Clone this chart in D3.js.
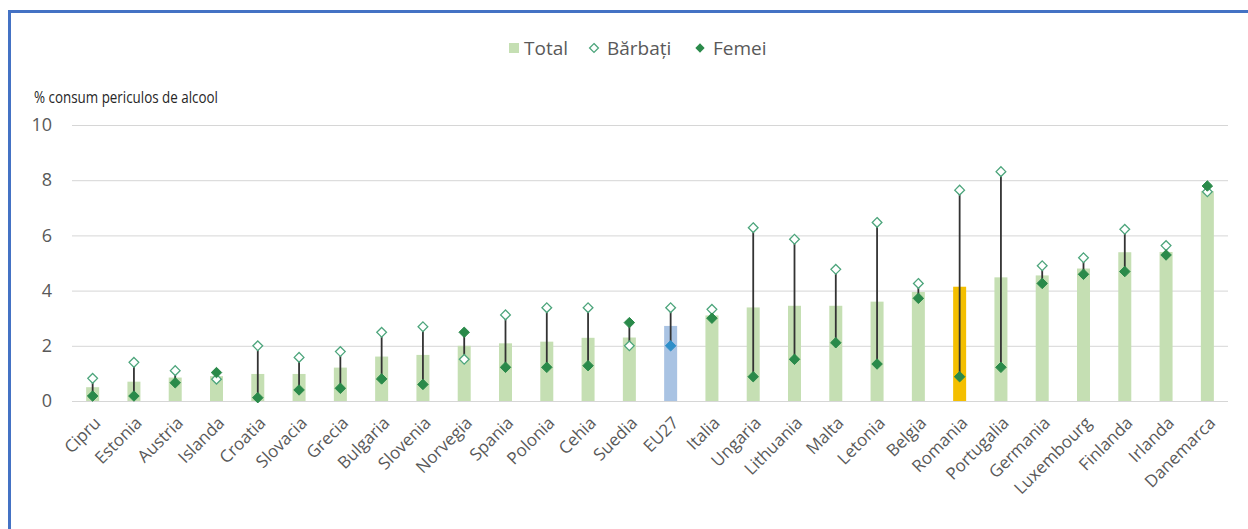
<!DOCTYPE html>
<html>
<head>
<meta charset="utf-8">
<script src="https://cdn.jsdelivr.net/npm/d3@7"></script>
<style>
  html, body { margin: 0; padding: 0; background: #ffffff; }
  svg { display: block; }
  text { font-family: "Open Sans", "Noto Sans", sans-serif; }
</style>
</head>
<body>
<svg id="chart" width="1248" height="529"></svg>
<script>
const categories = ["Cipru","Estonia","Austria","Islanda","Croatia","Slovacia","Grecia","Bulgaria","Slovenia","Norvegia","Spania","Polonia","Cehia","Suedia","EU27","Italia","Ungaria","Lithuania","Malta","Letonia","Belgia","Romania","Portugalia","Germania","Luxembourg","Finlanda","Irlanda","Danemarca"];
const totalValues = [0.5,0.7,0.85,0.9,0.98,0.98,1.21,1.61,1.67,2.0,2.09,2.15,2.29,2.3,2.72,3.1,3.39,3.45,3.45,3.6,3.95,4.14,4.48,4.55,4.8,5.39,5.4,7.6];
const menValues = [0.82,1.4,1.1,0.79,2.0,1.58,1.79,2.49,2.69,1.51,3.12,3.38,3.38,2.0,3.38,3.32,6.28,5.86,4.77,6.47,4.26,7.64,8.31,4.9,5.19,6.22,5.63,7.58];
const womenValues = [0.18,0.18,0.66,1.03,0.12,0.40,0.46,0.80,0.60,2.49,1.22,1.22,1.28,2.84,2.0,3.0,0.88,1.51,2.11,1.34,3.72,0.88,1.22,4.26,4.59,4.69,5.29,7.79];
const yTicks = [0,2,4,6,8,10];
const legendLabels = ["Total","Bărbați","Femei"];
const yTitle = "% consum periculos de alcool";
const euCategory = "EU27";
const roCategory = "Romania";

const data = categories.map((c,i)=>({cat:c,total:totalValues[i],men:menValues[i],women:womenValues[i]}));

const svg = d3.select("#chart");
const mLeft = 72, mRight = 1228, mTop = 125, mBottom = 401;

const x = d3.scaleBand().domain(categories).range([mLeft,mRight]).paddingInner(0).paddingOuter(0);
const y = d3.scaleLinear().domain([0,10]).range([mBottom,mTop]);
const barW = 13;

const colTotal = "#c5dfb3", colEU = "#a9c3e3", colRO = "#f4bf00";
const colWomen = "#2a8a4a", colWomenEU = "#2f8fc9", colMen = "#4da57c";

// border
svg.append("path").attr("d","M9.5,529 L9.5,11.5 L1248,11.5").attr("fill","none").attr("stroke","#4472c4").attr("stroke-width",3);

// gridlines
svg.append("g").selectAll("line").data(yTicks).join("line")
  .attr("x1",mLeft).attr("x2",mRight)
  .attr("y1",d=>y(d)+0.5).attr("y2",d=>y(d)+0.5)
  .attr("stroke","#d6d6d6").attr("stroke-width",1);

// y axis labels
const yAxis = d3.axisLeft(y).tickValues(yTicks).tickSize(0).tickPadding(0).tickFormat(d3.format("d"));
const gy = svg.append("g").attr("transform",`translate(52,0)`).call(yAxis);
gy.select(".domain").remove();
gy.selectAll("text").attr("fill","#595959").style("font-size","18px").style("font-family","'Open Sans', sans-serif");

// y title
svg.append("text").attr("x",34).attr("y",103).text(yTitle)
  .attr("fill","#262626").style("font-size","16px")
  .attr("textLength",184).attr("lengthAdjust","spacingAndGlyphs");

// bars
svg.append("g").selectAll("rect").data(data).join("rect")
  .attr("x",d=>x(d.cat)+x.bandwidth()/2-barW/2)
  .attr("width",barW)
  .attr("y",d=>y(d.total))
  .attr("height",d=>y(0)-y(d.total))
  .attr("fill",d=>d.cat===euCategory?colEU:(d.cat===roCategory?colRO:colTotal));

// high-low lines
svg.append("g").selectAll("line").data(data).join("line")
  .attr("x1",d=>x(d.cat)+x.bandwidth()/2).attr("x2",d=>x(d.cat)+x.bandwidth()/2)
  .attr("y1",d=>y(d.men)).attr("y2",d=>y(d.women))
  .attr("stroke","#333333").attr("stroke-width",1.8);

const diamond = d3.symbol().type(d3.symbolDiamond2).size(60);
const diamondW = d3.symbol().type(d3.symbolDiamond2).size(70);

// men markers
svg.append("g").selectAll("path").data(data).join("path")
  .attr("d",diamond)
  .attr("transform",d=>`translate(${x(d.cat)+x.bandwidth()/2},${y(d.men)})`)
  .attr("fill","#ffffff").attr("stroke",colMen).attr("stroke-width",1.3);

// women markers
svg.append("g").selectAll("path").data(data).join("path")
  .attr("d",diamondW)
  .attr("transform",d=>`translate(${x(d.cat)+x.bandwidth()/2},${y(d.women)})`)
  .attr("fill",d=>d.cat===euCategory?colWomenEU:colWomen)
  .attr("stroke",d=>d.cat===euCategory?colWomenEU:colWomen).attr("stroke-width",1);

// x labels
const xAxis = d3.axisBottom(x).tickSize(0).tickPadding(0);
const gx = svg.append("g").attr("transform",`translate(0,${mBottom})`).call(xAxis);
gx.select(".domain").remove();
gx.selectAll("text")
  .attr("text-anchor","end")
  .attr("dy","0")
  .attr("transform","translate(9,23) rotate(-45)")
  .attr("fill","#595959").style("font-size","17px").style("font-family","'Open Sans', sans-serif");

// legend
const lg = svg.append("g");
const ly = 48;
lg.append("rect").attr("x",509).attr("y",ly-5).attr("width",10).attr("height",10).attr("fill",colTotal);
lg.append("text").attr("x",524).attr("y",ly).attr("dy","0.35em").text(legendLabels[0]).attr("fill","#595959").style("font-size","19px");
lg.append("path").attr("d",d3.symbol().type(d3.symbolDiamond2).size(50)).attr("transform",`translate(594,${ly})`).attr("fill","#fff").attr("stroke",colMen).attr("stroke-width",1.3);
lg.append("text").attr("x",607).attr("y",ly).attr("dy","0.35em").text(legendLabels[1]).attr("fill","#595959").style("font-size","19px");
lg.append("path").attr("d",d3.symbol().type(d3.symbolDiamond2).size(55)).attr("transform",`translate(700,${ly})`).attr("fill",colWomen);
lg.append("text").attr("x",713).attr("y",ly).attr("dy","0.35em").text(legendLabels[2]).attr("fill","#595959").style("font-size","19px");
</script>
</body>
</html>
